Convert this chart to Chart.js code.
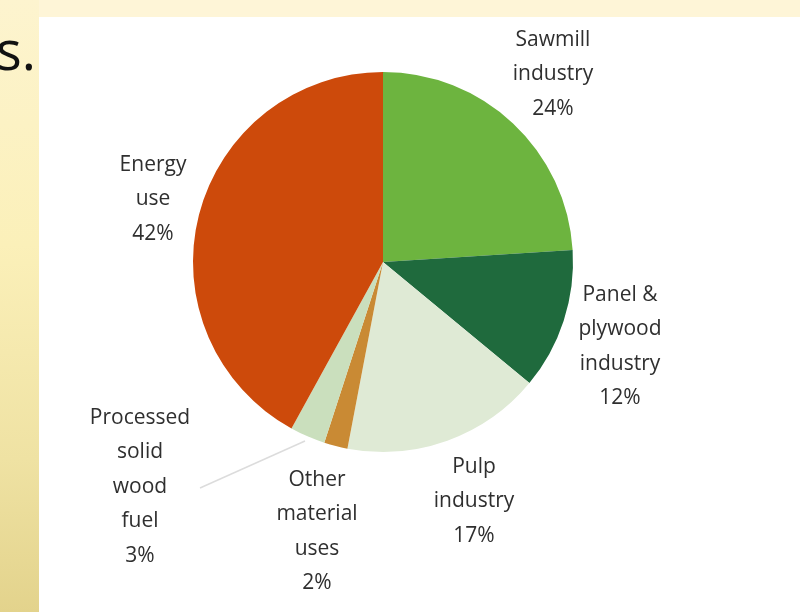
<!DOCTYPE html>
<html>
<head>
<meta charset="utf-8">
<script src="https://cdn.jsdelivr.net/npm/chart.js@4.4.0/dist/chart.umd.min.js"></script>
<style>
  html, body { margin: 0; padding: 0; }
  body { width: 800px; height: 612px; position: relative; overflow: hidden; background: #fef5d7; }
  #left { position: absolute; left: 0; top: 0; width: 39px; height: 612px;
          background: linear-gradient(to bottom, #fdf4cf 0%, #fbf0b9 40%, #efe2a3 75%, #e3d38c 100%); }
  #white { position: absolute; left: 39px; top: 17px; width: 761px; height: 595px; background: #fff; }
  #slide { position: absolute; left: -4px; top: 12px; font: 54px "Open Sans", sans-serif; color: #111; }
  #wrap { position: absolute; left: 0; top: 0; width: 800px; height: 612px; }
</style>
</head>
<body>
<div id="left"></div>
<div id="white"></div>
<div id="slide">s.</div>
<div id="wrap"><canvas id="pie"></canvas></div>
<script>
var categories = ['Sawmill industry', 'Panel & plywood industry', 'Pulp industry',
                  'Other material uses', 'Processed solid wood fuel', 'Energy use'];
var shares = [24, 12, 17, 2, 3, 42];
var labelLines = [
    ['Sawmill', 'industry', '24%'],
    ['Panel &', 'plywood', 'industry', '12%'],
    ['Pulp', 'industry', '17%'],
    ['Other', 'material', 'uses', '2%'],
    ['Processed', 'solid', 'wood', 'fuel', '3%'],
    ['Energy', 'use', '42%']
];
var colors = ['#6db43f', '#1f6a3d', '#dfead5', '#c98a34', '#cadfbd', '#cd4a0b'];

// label anchors, offset from the pie centre (x of text centre, y of first line)
var labelPos = [[170, -222], [237, 33], [91, 205], [-66, 218], [-243, 156], [-230, -97]];

var labelPlugin = {
    id: 'sliceLabels',
    afterDraw: function(chart) {
        var ctx = chart.ctx;
        var arc = chart.getDatasetMeta(0).data[0];
        var cx = arc.x, cy = arc.y;
        ctx.save();
        // leader line for the small fuel slice
        ctx.strokeStyle = '#dcdcdc';
        ctx.lineWidth = 1.5;
        ctx.beginPath();
        ctx.moveTo(cx - 183, cy + 226);
        ctx.lineTo(cx - 78, cy + 179);
        ctx.stroke();

        ctx.fillStyle = '#2f2f2f';
        ctx.font = '21px "Open Sans", sans-serif';
        ctx.textAlign = 'center';
        ctx.textBaseline = 'middle';
        labelLines.forEach(function(lines, i) {
            lines.forEach(function(txt, j) {
                ctx.fillText(txt, cx + labelPos[i][0], cy + labelPos[i][1] + j * 34.5);
            });
        });
        ctx.restore();
    }
};

new Chart(document.getElementById('pie'), {
    type: 'pie',
    data: {
        labels: categories,
        datasets: [{
            data: shares,
            backgroundColor: colors,
            borderWidth: 0
        }]
    },
    options: {
        responsive: true,
        maintainAspectRatio: false,
        animation: false,
        layout: { padding: { left: 193, right: 227, top: 72, bottom: 160 } },
        plugins: {
            legend: { display: false },
            tooltip: { enabled: false }
        }
    },
    plugins: [labelPlugin]
});
</script>
</body>
</html>
